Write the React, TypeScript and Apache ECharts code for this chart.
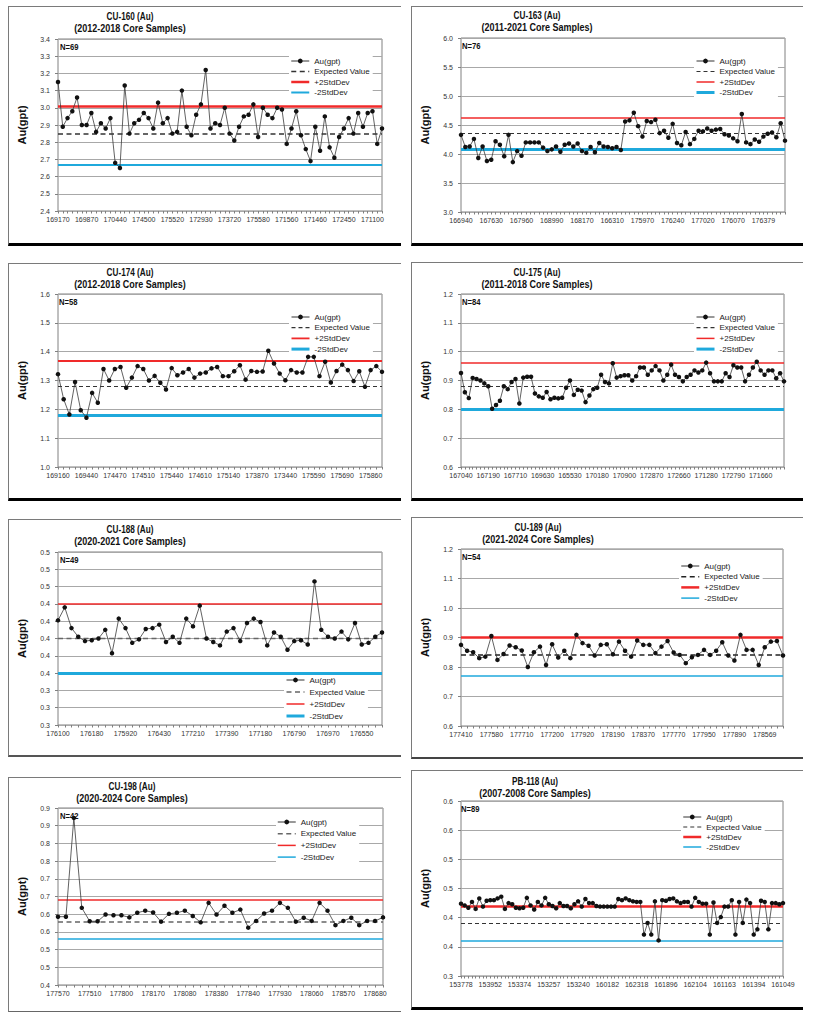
import React, { useEffect, useRef } from "react";
import * as echarts from "echarts";

const FONT = "'Liberation Sans', Arial, Helvetica, sans-serif";
const RED = "#f02a2a";
const BLUE = "#1fa9dc";

// CU-160 (2012-2018)
const cu160Labels = ["169170", "169870", "170440", "174500", "175520", "172930", "173720", "175580", "171560", "171460", "172450", "171100"];
const cu160Values = [
    3.15, 2.89, 2.94, 2.98, 3.06, 2.9, 2.9, 2.97, 2.86, 2.91,
    2.88, 2.94, 2.68, 2.65, 3.13, 2.85, 2.91, 2.93, 2.97, 2.94,
    2.88, 3.03, 2.91, 2.94, 2.85, 2.86, 3.1, 2.89, 2.84, 2.96,
    3.02, 3.22, 2.88, 2.91, 2.9, 3.0, 2.85, 2.81, 2.89, 2.95,
    2.96, 3.02, 2.83, 3.0, 2.96, 2.94, 3.0, 2.99, 2.79, 2.88,
    2.98, 2.84, 2.76, 2.69, 2.89, 2.75, 2.95, 2.77, 2.71, 2.83,
    2.88, 2.94, 2.85, 2.97, 2.89, 2.97, 2.98, 2.79, 2.88,
];
const cu160Stats = [2.845, 3.01, 2.668]; // expected, +2SD, -2SD
const cu160Ticks = [2.4, 3.4, 0.1]; // min, max, step

// CU-163 (2011-2021)
const cu163Labels = ["166940", "167630", "167960", "168990", "168170", "166310", "175970", "176240", "177020", "176070", "176379"];
const cu163Values = [
    4.33, 4.12, 4.13, 4.26, 3.93, 4.13, 3.88, 3.9, 4.22, 4.16,
    3.96, 4.33, 3.86, 4.05, 3.97, 4.2, 4.2, 4.2, 4.2, 4.11,
    4.05, 4.08, 4.13, 4.04, 4.16, 4.18, 4.13, 4.18, 4.05, 4.02,
    4.12, 4.03, 4.19, 4.13, 4.12, 4.1, 4.12, 4.07,
    4.56, 4.58, 4.71, 4.48, 4.3, 4.57, 4.55, 4.59, 4.36, 4.4,
    4.28, 4.52, 4.19, 4.15, 4.38, 4.17, 4.26, 4.4, 4.39, 4.44,
    4.4, 4.42, 4.43, 4.34, 4.32, 4.27, 4.22, 4.69, 4.2, 4.17,
    4.25, 4.21, 4.3, 4.35, 4.37, 4.29, 4.53, 4.23,
];
const cu163Stats = [4.355, 4.615, 4.085];
const cu163Ticks = [3.0, 6.0, 0.5];

// CU-174 (2012-2018)
const cu174Labels = ["169160", "169440", "174470", "174510", "175440", "174610", "175140", "173870", "173440", "175590", "175690", "175860"];
const cu174Values = [
    1.322, 1.235, 1.182, 1.295, 1.197, 1.171, 1.257, 1.223, 1.34, 1.3,
    1.34, 1.347, 1.275, 1.31, 1.35, 1.34, 1.3, 1.316, 1.292, 1.269,
    1.343, 1.318, 1.328, 1.34, 1.31, 1.324, 1.328, 1.342, 1.347, 1.315,
    1.315, 1.332, 1.353, 1.303, 1.333, 1.33, 1.331, 1.403, 1.359, 1.324,
    1.301, 1.336, 1.328, 1.328, 1.382, 1.382, 1.315, 1.365, 1.293, 1.333,
    1.355, 1.336, 1.298, 1.332, 1.278, 1.336, 1.35, 1.33,
];
const cu174Stats = [1.277, 1.371, 1.184];
const cu174Ticks = [1.0, 1.6, 0.1];

// CU-175 (2011-2018)
const cu175Labels = ["167040", "167190", "167710", "169630", "165530", "170180", "170900", "172870", "172660", "171280", "172790", "171660"];
const cu175Values = [
    0.926, 0.859, 0.839, 0.909, 0.905, 0.9, 0.89, 0.88, 0.802, 0.815,
    0.83, 0.88, 0.87, 0.895, 0.905, 0.82, 0.91, 0.913, 0.913, 0.855,
    0.845, 0.84, 0.86, 0.835, 0.84, 0.838, 0.84, 0.875, 0.9, 0.85,
    0.868, 0.865, 0.825, 0.848, 0.87, 0.875, 0.92, 0.895, 0.89, 0.96,
    0.91, 0.915, 0.918, 0.918, 0.9, 0.915, 0.945, 0.945, 0.92, 0.935,
    0.95, 0.935, 0.9, 0.92, 0.955, 0.92, 0.912, 0.897, 0.912, 0.92,
    0.935, 0.928, 0.935, 0.962, 0.925, 0.897, 0.897, 0.897, 0.925, 0.912,
    0.953, 0.945, 0.945, 0.897, 0.92, 0.945, 0.965, 0.935, 0.92, 0.935,
    0.935, 0.908, 0.925, 0.897,
];
const cu175Stats = [0.877, 0.957, 0.801];
const cu175Ticks = [0.6, 1.2, 0.1];

// CU-188 (2020-2021)
const cu188Labels = ["176100", "176180", "175920", "176430", "177210", "177390", "177180", "176790", "176970", "176550"];
const cu188Values = [
    0.421, 0.436, 0.412, 0.402, 0.397, 0.398, 0.4, 0.41, 0.383, 0.423,
    0.412, 0.395, 0.399, 0.411, 0.412, 0.416, 0.396, 0.402, 0.395, 0.423,
    0.414, 0.438, 0.4, 0.396, 0.392, 0.408, 0.412, 0.397, 0.418, 0.423,
    0.419, 0.392, 0.407, 0.402, 0.387, 0.397, 0.398, 0.393, 0.466, 0.41,
    0.402, 0.4, 0.408, 0.399, 0.418, 0.393, 0.395, 0.402, 0.407,
];
const cu188Stats = [0.4, 0.44, 0.36];
const cu188Ticks = [0.3, 0.5, 0.02];

// CU-189 (2021-2024)
const cu189Labels = ["177410", "177580", "177710", "177200", "177920", "178190", "178370", "177770", "177950", "177890", "178569"];
const cu189Values = [
    0.875, 0.855, 0.85, 0.83, 0.835, 0.905, 0.824, 0.844, 0.873, 0.867,
    0.856, 0.8, 0.85, 0.869, 0.807, 0.877, 0.832, 0.855, 0.83, 0.909,
    0.881, 0.872, 0.839, 0.875, 0.877, 0.843, 0.886, 0.855, 0.835, 0.89,
    0.875, 0.875, 0.847, 0.869, 0.888, 0.849, 0.841, 0.813, 0.833, 0.841,
    0.858, 0.841, 0.855, 0.884, 0.839, 0.822, 0.909, 0.858, 0.858, 0.807,
    0.867, 0.886, 0.888, 0.839,
];
const cu189Stats = [0.839, 0.903, 0.773];
const cu189Ticks = [0.6, 1.2, 0.1];

// CU-198 (2020-2024)
const cu198Labels = ["177570", "177510", "177800", "178170", "178080", "178380", "177840", "177930", "178060", "178570", "178680"];
const cu198Values = [
    0.593, 0.593, 0.872, 0.618, 0.58, 0.58, 0.599, 0.597, 0.597, 0.591,
    0.604, 0.61, 0.605, 0.579, 0.601, 0.604, 0.61, 0.595, 0.577, 0.632,
    0.599, 0.624, 0.604, 0.613, 0.562, 0.581, 0.602, 0.61, 0.632, 0.618,
    0.579, 0.59, 0.581, 0.632, 0.61, 0.569, 0.581, 0.59, 0.569, 0.581,
    0.581, 0.591,
];
const cu198Stats = [0.581, 0.637, 0.525];
const cu198Ticks = [0.4, 0.9, 0.05];

// PB-118 (2007-2008)
const pb118Labels = ["153778", "153952", "153374", "153257", "153240", "160182", "162318", "161896", "162104", "161163", "161394", "161049"];
const pb118Values = [
    0.424, 0.421, 0.417, 0.427, 0.415, 0.433, 0.419, 0.429, 0.43, 0.43,
    0.433, 0.436, 0.415, 0.425, 0.423, 0.417, 0.416, 0.417, 0.434, 0.421,
    0.414, 0.427, 0.421, 0.434, 0.423, 0.42, 0.416, 0.425, 0.42, 0.42,
    0.416, 0.423, 0.428, 0.419, 0.432, 0.425, 0.425, 0.42, 0.419, 0.419,
    0.419, 0.419, 0.419, 0.432, 0.43, 0.433, 0.43, 0.428, 0.427, 0.427,
    0.371, 0.391, 0.371, 0.428, 0.361, 0.43, 0.429, 0.432, 0.433, 0.428,
    0.425, 0.427, 0.427, 0.419, 0.434, 0.427, 0.424, 0.424, 0.371, 0.426,
    0.391, 0.401, 0.419, 0.419, 0.43, 0.371, 0.427, 0.391, 0.431, 0.425,
    0.371, 0.38, 0.429, 0.427, 0.38, 0.425, 0.425, 0.423, 0.425,
];
const pb118Stats = [0.39, 0.4226, 0.3596];
const pb118Ticks = [0.3, 0.6, 0.05];

interface Panel {
    hole: string;
    period: string;
    labels: string[];
    step: number;
    values: number[];
    stats: number[];
    ticks: number[];
    frame: number[]; // x, y, w, h on the page
    grid: number[]; // left, top, width, height inside the panel
    title: number[]; // centre x, y of first title line
    legend: number[]; // left, top, itemGap
    widths: number[]; // dashed, +2SD, -2SD line widths
    dashColor: string;
    bottom: string;
}

const panels: Panel[] = [
    {
        hole: "CU-160 (Au)", period: "(2012-2018 Core Samples)",
        labels: cu160Labels, step: 6, values: cu160Values, stats: cu160Stats, ticks: cu160Ticks,
        frame: [8, 6, 393, 240], grid: [44, 33, 330, 172], title: [122, 11], legend: [281, 50, 2.5],
        widths: [1.5, 2.5, 2], dashColor: "#333", bottom: "3px solid #000",
    },
    {
        hole: "CU-163 (Au)", period: "(2011-2021 Core Samples)",
        labels: cu163Labels, step: 7, values: cu163Values, stats: cu163Stats, ticks: cu163Ticks,
        frame: [411, 6, 392, 240], grid: [43, 32, 331, 174], title: [126, 10], legend: [283, 50, 2.5],
        widths: [1.2, 1.5, 3], dashColor: "#333", bottom: "3px solid #000",
    },
    {
        hole: "CU-174 (Au)", period: "(2012-2018 Core Samples)",
        labels: cu174Labels, step: 5, values: cu174Values, stats: cu174Stats, ticks: cu174Ticks,
        frame: [8, 263, 393, 238], grid: [43, 31, 331, 173], title: [122, 10], legend: [281, 49, 2.7],
        widths: [1.2, 1.8, 3], dashColor: "#333", bottom: "3px solid #000",
    },
    {
        hole: "CU-175 (Au)", period: "(2011-2018 Core Samples)",
        labels: cu175Labels, step: 7, values: cu175Values, stats: cu175Stats, ticks: cu175Ticks,
        frame: [411, 262, 392, 239], grid: [43, 32, 330, 173], title: [126, 11], legend: [283, 50, 2.7],
        widths: [1.2, 1.5, 3], dashColor: "#333", bottom: "3px solid #000",
    },
    {
        hole: "CU-188 (Au)", period: "(2020-2021 Core Samples)",
        labels: cu188Labels, step: 5, values: cu188Values, stats: cu188Stats, ticks: cu188Ticks,
        frame: [8, 519, 393, 238], grid: [44, 33, 330, 173], title: [122, 11], legend: [276, 156, 4],
        widths: [1.3, 1.5, 3], dashColor: "#666", bottom: "2px solid #555",
    },
    {
        hole: "CU-189 (Au)", period: "(2021-2024 Core Samples)",
        labels: cu189Labels, step: 5, values: cu189Values, stats: cu189Stats, ticks: cu189Ticks,
        frame: [411, 517, 392, 242], grid: [43, 32, 329, 177], title: [127, 11], legend: [268, 44, 2.7],
        widths: [1.5, 2.5, 1.5], dashColor: "#222", bottom: "2px solid #444",
    },
    {
        hole: "CU-198 (Au)", period: "(2020-2024 Core Samples)",
        labels: cu198Labels, step: 4, values: cu198Values, stats: cu198Stats, ticks: cu198Ticks,
        frame: [8, 777, 393, 235], grid: [44, 31, 331, 177], title: [124, 10], legend: [268, 40, 3.7],
        widths: [1.5, 1.5, 1.5], dashColor: "#666", bottom: "1px solid #666",
    },
    {
        hole: "PB-118 (Au)", period: "(2007-2008 Core Samples)",
        labels: pb118Labels, step: 8, values: pb118Values, stats: pb118Stats, ticks: pb118Ticks,
        frame: [411, 770, 392, 240], grid: [42, 31, 330, 175], title: [124, 12], legend: [270, 42, 2],
        widths: [1, 2.5, 1.5], dashColor: "#333", bottom: "3px solid #000",
    },
];

const tickLabel = (v: number) => (Math.round(v * 10 + 1e-9) / 10).toFixed(1);

const ChartPanel: React.FC<{ p: Panel }> = ({ p }) => {
    const chartRef = useRef<HTMLDivElement>(null);

    useEffect(() => {
        if (!chartRef.current) return;
        const chart = echarts.init(chartRef.current, undefined, { renderer: "svg" });

        const [gl, gt, gw, gh] = p.grid;
        const [expected, plus2, minus2] = p.stats;
        const [yMin, yMax, yStep] = p.ticks;
        const [dashW, redW, blueW] = p.widths;
        const [tx, ty] = p.title;
        const [lx, ly, lgap] = p.legend;
        const dash = dashW > 1.2 ? [5, 3.5] : [4, 3];

        // only every step-th sample id is printed under the axis
        const categories = p.values.map((_, i) =>
            i % p.step === 0 ? p.labels[i / p.step] ?? "" : ""
        );

        const option = {
            animation: false,
            textStyle: { fontFamily: FONT },
            grid: {
                left: gl, top: gt, width: gw, height: gh,
                show: true, borderColor: "#808080", borderWidth: 1,
            },
            xAxis: {
                type: "category",
                data: categories,
                boundaryGap: false,
                axisLine: { show: false, onZero: false },
                axisTick: { show: true, interval: 0, length: 2.5, lineStyle: { color: "#808080" } },
                axisLabel: { interval: 0, fontSize: 7, color: "#333", margin: 5 },
                splitLine: { show: false },
            },
            yAxis: {
                type: "value",
                min: yMin,
                max: yMax,
                interval: yStep,
                name: "Au(gpt)",
                nameLocation: "middle",
                nameGap: 31,
                nameTextStyle: { fontSize: 11, fontWeight: "bold", color: "#111" },
                axisLine: { show: false },
                axisTick: { show: true, length: 3, lineStyle: { color: "#808080" } },
                axisLabel: { fontSize: 7, color: "#333", margin: 8, formatter: tickLabel },
                splitLine: { lineStyle: { color: "#a8a8a8", width: 1 } },
            },
            legend: {
                orient: "vertical",
                left: lx,
                top: ly,
                itemGap: lgap,
                itemWidth: 18,
                itemHeight: 6,
                padding: [1, 3, 1, 1],
                backgroundColor: "#fff",
                selectedMode: false,
                textStyle: { fontSize: 8, color: "#1a1a1a", fontFamily: FONT },
                data: [
                    { name: "Au(gpt)", itemStyle: { color: "#111" }, lineStyle: { color: "#333", width: 1, type: "solid" } },
                    { name: "Expected Value", itemStyle: { opacity: 0 }, lineStyle: { color: p.dashColor, width: dashW, type: dash } },
                    { name: "+2StdDev", itemStyle: { opacity: 0 }, lineStyle: { color: RED, width: redW, type: "solid" } },
                    { name: "-2StdDev", itemStyle: { opacity: 0 }, lineStyle: { color: BLUE, width: blueW, type: "solid" } },
                ],
            },
            graphic: [
                {
                    type: "text", x: tx, y: ty, scaleX: 0.82, z: 10,
                    style: { text: p.hole, font: `bold 10px ${FONT}`, fill: "#111", align: "center", verticalAlign: "middle", textAlign: "center", textVerticalAlign: "middle" },
                },
                {
                    type: "text", x: tx, y: ty + 11, scaleX: 0.82, z: 10,
                    style: { text: p.period, font: `bold 11px ${FONT}`, fill: "#111", align: "center", verticalAlign: "middle", textAlign: "center", textVerticalAlign: "middle" },
                },
                {
                    type: "text", x: gl + 8, y: gt + 8, scaleX: 0.85, z: 10,
                    style: { text: `N=${p.values.length}`, font: `bold 9px ${FONT}`, fill: "#111", align: "left", verticalAlign: "middle", textAlign: "left", textVerticalAlign: "middle" },
                },
            ],
            series: [
                {
                    type: "line",
                    name: "Au(gpt)",
                    data: p.values,
                    symbol: "circle",
                    symbolSize: 4.5,
                    itemStyle: { color: "#111" },
                    lineStyle: { color: "#3a3a3a", width: 0.8 },
                    z: 3,
                    markLine: {
                        silent: true,
                        z: 1,
                        symbol: ["none", "none"],
                        label: { show: false },
                        emphasis: { disabled: true },
                        data: [
                            { yAxis: expected, lineStyle: { color: p.dashColor, width: dashW, type: dash } },
                            { yAxis: plus2, lineStyle: { color: RED, width: redW, type: "solid" } },
                            { yAxis: minus2, lineStyle: { color: BLUE, width: blueW, type: "solid" } },
                        ],
                    },
                },
                { type: "line", name: "Expected Value", data: [], symbol: "none", itemStyle: { opacity: 0 }, lineStyle: { color: p.dashColor, width: dashW, type: dash } },
                { type: "line", name: "+2StdDev", data: [], symbol: "none", itemStyle: { opacity: 0 }, lineStyle: { color: RED, width: redW } },
                { type: "line", name: "-2StdDev", data: [], symbol: "none", itemStyle: { opacity: 0 }, lineStyle: { color: BLUE, width: blueW } },
            ],
        };

        chart.setOption(option as any);

        return () => {
            chart.dispose();
        };
    }, [p]);

    const [x, y, w, h] = p.frame;
    return (
        <div style={{ position: "absolute", left: x, top: y, width: w, height: h }}>
            <div
                style={{
                    position: "absolute", left: 0, top: 0, width: w, height: h, boxSizing: "border-box",
                    borderTop: "1px solid #7a7a7a", borderLeft: "1px solid #7a7a7a", borderBottom: p.bottom,
                }}
            />
            <div ref={chartRef} style={{ position: "absolute", left: 0, top: 0, width: w, height: h }} />
        </div>
    );
};

export default function App() {
    return (
        <div
            style={{
                position: "absolute", left: 0, top: 0, width: 817, height: 1024,
                background: "#fff", overflow: "hidden",
            }}
        >
            {panels.map((p) => (
                <ChartPanel key={p.hole} p={p} />
            ))}
        </div>
    );
}
